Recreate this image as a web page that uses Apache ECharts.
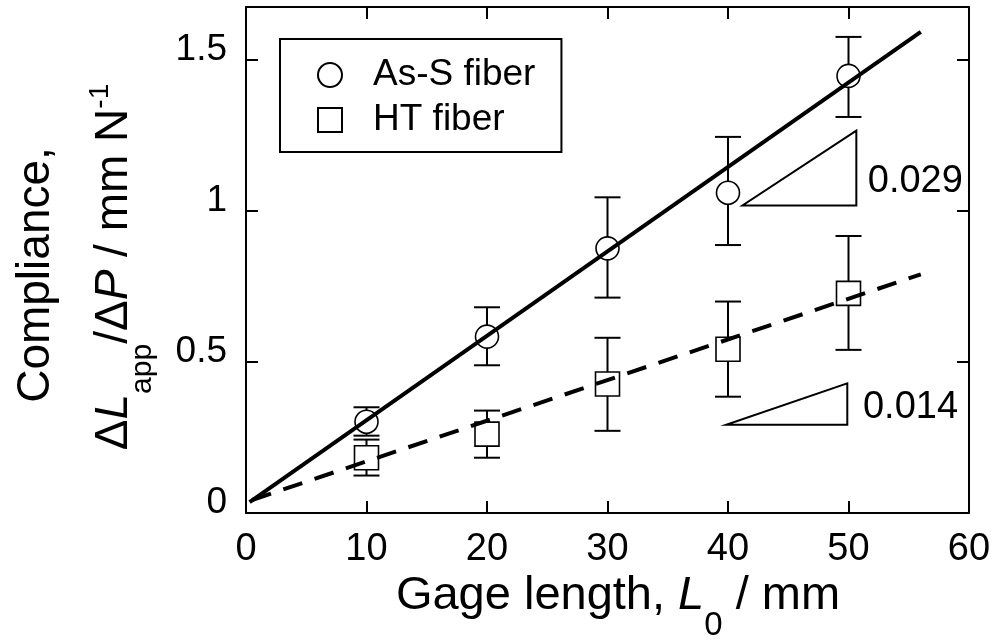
<!DOCTYPE html>
<html><head><meta charset="utf-8">
<script src="https://cdn.jsdelivr.net/npm/echarts@6/dist/echarts.min.js"></script>
<style>html,body{margin:0;padding:0;background:#fff}#c{width:996px;height:641px}</style>
</head><body><div id="c"></div>
<script>
// ---- data ----
const gageLengths = [10, 20, 30, 40, 50];
const asSValues = [0.302, 0.584, 0.876, 1.060, 1.447];
const asSUpper  = [0.350, 0.681, 1.045, 1.245, 1.576];
const asSLower  = [0.256, 0.489, 0.713, 0.887, 1.311];
const htValues  = [0.183, 0.261, 0.427, 0.542, 0.727];
const htUpper   = [0.243, 0.339, 0.580, 0.700, 0.917];
const htLower   = [0.124, 0.183, 0.272, 0.385, 0.540];
const asSFit = [[0.3, 0.036], [56, 1.593]];
const htFit  = [[0.5, 0.043], [56, 0.790]];
const slopeLabels = ['0.029', '0.014'];
const slopeTriangles = [[41.2, 1.018, 50.65, 1.266], [39.85, 0.292, 49.9, 0.429]];
const slopeLabelAt = [[51.6, 1.096], [51.2, 0.348]];
const xRange = [0, 60];
const yRange = [0, 1.675];

const F = 'Liberation Sans, Arial, Helvetica, sans-serif';
const SQUARE = 'path://M0,0L24,0L24,24L0,24Z';
const chart = echarts.init(document.getElementById('c'), null, {renderer: 'canvas'});

const axisLine = {show: true, onZero: false, lineStyle: {color: '#000', width: 2}};
const axisTick = {show: true, inside: true, length: 12, lineStyle: {color: '#000', width: 2}};

function errRender(params, api) {
  const x = api.value(0), lo = api.value(1), hi = api.value(2);
  const a = api.coord([x, lo]), b = api.coord([x, hi]);
  const hw = 13, st = {stroke: '#000', lineWidth: 2};
  return {type: 'group', children: [
    {type: 'line', shape: {x1: a[0], y1: a[1], x2: b[0], y2: b[1]}, style: st},
    {type: 'line', shape: {x1: a[0] - hw, y1: a[1], x2: a[0] + hw, y2: a[1]}, style: st},
    {type: 'line', shape: {x1: b[0] - hw, y1: b[1], x2: b[0] + hw, y2: b[1]}, style: st}
  ]};
}

function triRender(params, api) {
  const i = params.dataIndex;
  const p1 = api.coord([api.value(0), api.value(1)]);
  const p2 = api.coord([api.value(2), api.value(1)]);
  const p3 = api.coord([api.value(2), api.value(3)]);
  const lp = api.coord(slopeLabelAt[i]);
  return {type: 'group', children: [
    {type: 'polygon', shape: {points: [p1, p2, p3]}, style: {fill: '#fff', stroke: '#000', lineWidth: 2}},
    {type: 'text', x: lp[0], y: lp[1], style: {text: slopeLabels[i], fill: '#000', font: '38px ' + F, align: 'left', verticalAlign: 'middle'}}
  ]};
}

const option = {
  animation: false,
  backgroundColor: '#fff',
  grid: {left: 246, right: 27, top: 7, bottom: 128, containLabel: false, outerBoundsMode: 'none'},
  xAxis: [
    {type: 'value', min: xRange[0], max: xRange[1], interval: 10, position: 'bottom',
     axisLine, axisTick, splitLine: {show: false},
     axisLabel: {fontSize: 38, fontFamily: F, color: '#000', margin: 18, lineHeight: 38}},
    {type: 'value', min: xRange[0], max: xRange[1], interval: 10, position: 'top',
     axisLine, axisTick, splitLine: {show: false}, axisLabel: {show: false}}
  ],
  yAxis: [
    {type: 'value', min: yRange[0], max: yRange[1], interval: 0.5, position: 'left',
     axisLine, axisTick, splitLine: {show: false},
     axisLabel: {fontSize: 37, fontFamily: F, color: '#000', margin: 19, verticalAlign: 'bottom', lineHeight: 20,
       formatter: v => (Math.abs(v * 2 - Math.round(v * 2)) < 1e-6 ? String(v) : '')}},
    {type: 'value', min: yRange[0], max: yRange[1], interval: 0.5, position: 'right',
     axisLine, axisTick, splitLine: {show: false}, axisLabel: {show: false}}
  ],
  legend: {
    data: ['As-S fiber', 'HT fiber'],
    orient: 'vertical', left: 280, top: 39,
    padding: [16, 26, 12, 37],
    itemWidth: 76, itemHeight: 24, itemGap: 5, symbolKeepAspect: true,
    borderColor: '#000', borderWidth: 2, borderRadius: 0,
    selectedMode: false,
    textStyle: {fontSize: 37, fontFamily: F, color: '#000', lineHeight: 40}
  },
  graphic: [
    {type: 'text', x: 618, y: 596, silent: true,
     style: {text: '{a|Gage length, }{i|L}{s|0}{a| / mm}', align: 'center', verticalAlign: 'middle', fill: '#000',
       rich: {a: {fontSize: 47, fontFamily: F, fill: '#000'},
              i: {fontSize: 47, fontFamily: F, fontStyle: 'italic', fill: '#000'},
              s: {fontSize: 33, fontFamily: F, fill: '#000', padding: [60, 0, 0, 0]}}}},
    {type: 'text', x: 36, y: 275, rotation: Math.PI / 2, silent: true,
     style: {text: 'Compliance,', font: '46px ' + F, fill: '#000', align: 'center', verticalAlign: 'middle'}},
    {type: 'text', x: 114, y: 267, rotation: Math.PI / 2, silent: true,
     style: {text: '{a|Δ}{i|L}{s|app}{a|/Δ}{i|P}{a| / mm N}{p|-1}', align: 'center', verticalAlign: 'middle', fill: '#000',
       rich: {a: {fontSize: 46, fontFamily: F, fill: '#000'},
              i: {fontSize: 46, fontFamily: F, fontStyle: 'italic', fill: '#000'},
              s: {fontSize: 30, fontFamily: F, fill: '#000', padding: [57, 0, 0, 0]},
              p: {fontSize: 28, fontFamily: F, fill: '#000', padding: [0, 0, 28, 0]}}}}
  ],
  series: [
    {name: 'As-S err', type: 'custom', renderItem: errRender, z: 1, silent: true,
     encode: {x: 0, y: [1, 2]},
     data: gageLengths.map((x, i) => [x, asSLower[i], asSUpper[i]])},
    {name: 'HT err', type: 'custom', renderItem: errRender, z: 1, silent: true,
     encode: {x: 0, y: [1, 2]},
     data: gageLengths.map((x, i) => [x, htLower[i], htUpper[i]])},
    {name: 'slopes', type: 'custom', renderItem: triRender, z: 2, silent: true,
     encode: {x: [0, 2], y: [1, 3]},
     data: slopeTriangles},
    {name: 'As-S fiber', type: 'scatter', symbol: 'circle', symbolSize: 23, z: 3,
     itemStyle: {color: '#fff', borderColor: '#000', borderWidth: 1.6, opacity: 1},
     data: gageLengths.map((x, i) => [x, asSValues[i]])},
    {name: 'HT fiber', type: 'scatter', symbol: SQUARE, symbolKeepAspect: true, symbolSize: 24, z: 3,
     itemStyle: {color: '#fff', borderColor: '#000', borderWidth: 1.6, opacity: 1},
     data: gageLengths.map((x, i) => [x, htValues[i]])},
    {name: 'As-S fit', type: 'line', showSymbol: false, symbol: 'none', z: 4, silent: true,
     lineStyle: {color: '#000', width: 4, type: 'solid'}, data: asSFit},
    {name: 'HT fit', type: 'line', showSymbol: false, symbol: 'none', z: 4, silent: true,
     lineStyle: {color: '#000', width: 4, type: [20, 13]}, data: htFit}
  ]
};
chart.setOption(option);
</script>
</body></html>
